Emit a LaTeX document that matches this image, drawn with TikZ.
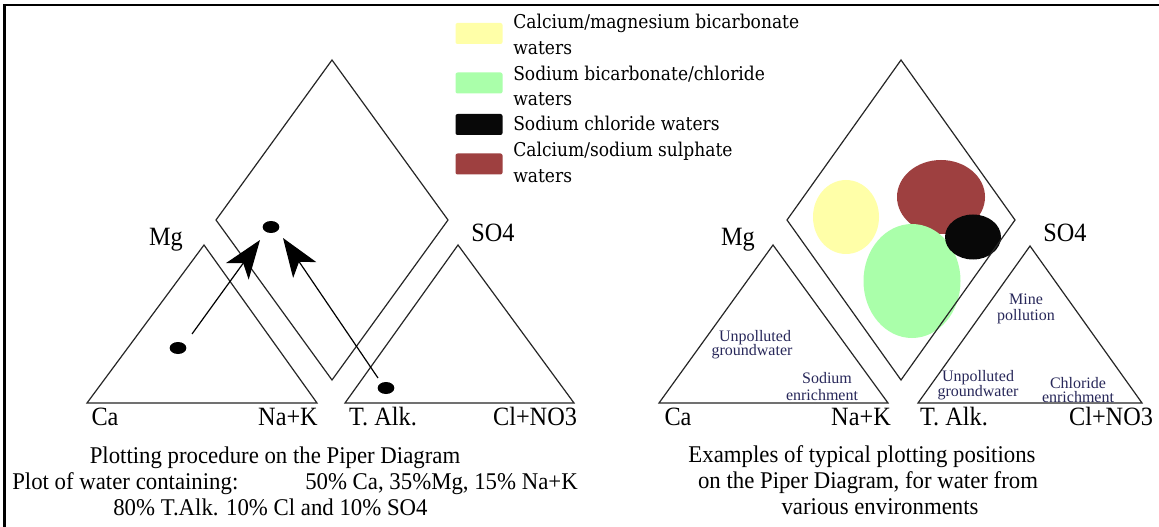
\documentclass[tikz,border=0pt]{standalone}
\usepackage{fontspec}
\setmainfont{Liberation Serif}
\newfontfamily\legfont[FakeStretch=0.9]{DejaVu Serif}
\newfontfamily\axfont[FakeStretch=0.92]{Liberation Serif}
\newfontfamily\capfont[FakeStretch=0.95]{Liberation Serif}
\usetikzlibrary{arrows.meta,shapes.geometric}
\definecolor{cyel}{RGB}{255,255,168}
\definecolor{cgrn}{RGB}{170,255,170}
\definecolor{cred}{RGB}{158,64,64}
\definecolor{cblk}{RGB}{8,8,8}
\definecolor{cnavy}{RGB}{40,40,90}
\begin{document}
\begin{tikzpicture}[x=0.75pt,y=-0.75pt,
  outline/.style={line width=0.9pt,draw=black!85,line join=miter},
  axlab/.style={font=\axfont\fontsize{19.8}{21}\selectfont,inner sep=0,anchor=base},
  captxt/.style={font=\capfont\fontsize{18}{20}\selectfont,inner sep=0,anchor=base},
  legtxt/.style={font=\legfont\fontsize{14.25}{16}\selectfont,inner sep=0,anchor=base west},
  smalltxt/.style={font=\fontsize{12}{13}\selectfont,text=cnavy,inner sep=0,anchor=base},
  swatch/.style={minimum width=35.25pt,minimum height=15.75pt,inner sep=0,draw=none,rounded corners=1.5pt},
  dotn/.style={ellipse,fill=black,minimum width=12.5pt,minimum height=9pt,inner sep=0},
  blob/.style={ellipse,inner sep=0,draw=none},
  arr/.style={line width=0.9pt,-{Stealth[length=29pt,width=21pt,inset=7.5pt]}}]
\useasboundingbox (0,0) rectangle (1159,527);
\fill[white] (0,0) rectangle (1159,527);
% frame
\draw[line width=2pt] (4.5,527) -- (4.5,5) -- (1159,5);

% ---------- legend ----------
\node[swatch,fill=cyel] (sw1) at (479,33.5) {};
\node[swatch,fill=cgrn] (sw2) at (479,83) {};
\node[swatch,fill=cblk] (sw3) at (479,124.5) {};
\node[swatch,fill=cred] (sw4) at (479,164) {};
\node[legtxt] (l1) at (513,29) {Calcium/magnesium bicarbonate};
\node[legtxt] (l2) at (513,55) {waters};
\node[legtxt] (l3) at (513,81) {Sodium bicarbonate/chloride};
\node[legtxt] (l4) at (513,106) {waters};
\node[legtxt] (l5) at (513,131) {Sodium chloride waters};
\node[legtxt] (l6) at (513,157) {Calcium/sodium sulphate};
\node[legtxt] (l7) at (513,183) {waters};

% ---------- left diagram ----------
\draw[outline] (332,60) -- (448,220) -- (332,380) -- (216,220) -- cycle;
\draw[outline] (87,403) -- (204,245) -- (317,403) -- cycle;
\draw[outline] (345,403) -- (458,245) -- (574,403) -- cycle;

\node[dotn] (d1) at (178,348) {};
\node[dotn] (d2) at (271,227) {};
\node[dotn] (d3) at (386,388) {};
\coordinate (a1s) at (192,334);
\coordinate (a1e) at (260,240);
\coordinate (a2s) at (378,378);
\coordinate (a2e) at (283,238);
\draw[arr] (a1s) -- (a1e);
\draw[arr] (a2s) -- (a2e);

\node[axlab] (mgL) at (166,246) {Mg};
\node[axlab] (so4L) at (493,242) {SO4};
\node[axlab] (caL) at (105,425) {Ca};
\node[axlab] (nakL) at (288,425) {Na+K};
\node[axlab] (talkL) at (383,425) {T. Alk.};
\node[axlab] (clL) at (535,425) {Cl+NO3};

\node[captxt] (c1) at (275,463) {Plotting procedure on the Piper Diagram};
\node[captxt,anchor=base west] (c2) at (12,489) {Plot of water containing:};
\node[captxt,anchor=base east] (c3) at (578,489) {50\% Ca, 35\%Mg, 15\% Na+K};
\node[captxt,anchor=base west] (c4) at (113,515) {80\% T.Alk. 10\% Cl and 10\% SO4};

% ---------- right diagram ----------
\node[blob,fill=cyel,minimum width=49.5pt,minimum height=55.5pt] (ey) at (846,217) {};
\node[blob,fill=cred,minimum width=66pt,minimum height=55.5pt] (er) at (941,197) {};
\node[blob,fill=cgrn,minimum width=72.75pt,minimum height=85.5pt] (eg) at (912,281) {};
\node[blob,fill=cblk,minimum width=42pt,minimum height=33.75pt] (eb) at (973,237) {};

\draw[outline] (901,60) -- (1015,220) -- (901,380) -- (787,220) -- cycle;
\draw[outline] (659,403) -- (773,245) -- (888,403) -- cycle;
\draw[outline] (918,403) -- (1030,246) -- (1142,403) -- cycle;

\node[axlab] (mgR) at (738,246) {Mg};
\node[axlab] (so4R) at (1065,242) {SO4};
\node[axlab] (caR) at (678,425) {Ca};
\node[axlab] (nakR) at (861,425) {Na+K};
\node[axlab] (talkR) at (954,425) {T. Alk.};
\node[axlab] (clR) at (1111,425) {Cl+NO3};

\node[smalltxt] (s1) at (755,341) {Unpolluted};
\node[smalltxt] (s2) at (752,355) {groundwater};
\node[smalltxt] (s3) at (827,383) {Sodium};
\node[smalltxt] (s4) at (822,400) {enrichment};
\node[smalltxt] (s5) at (1026,304) {Mine};
\node[smalltxt] (s6) at (1026,320) {pollution};
\node[smalltxt] (s7) at (978,381) {Unpolluted};
\node[smalltxt] (s8) at (978,396) {groundwater};
\node[smalltxt] (s9) at (1078,388) {Chloride};
\node[smalltxt] (s10) at (1078,402) {enrichment};

\node[captxt] (r1) at (862,462) {Examples of typical plotting positions};
\node[captxt] (r2) at (868,488) {on the Piper Diagram, for water from};
\node[captxt] (r3) at (880,514) {various environments};
\end{tikzpicture}
\end{document}
